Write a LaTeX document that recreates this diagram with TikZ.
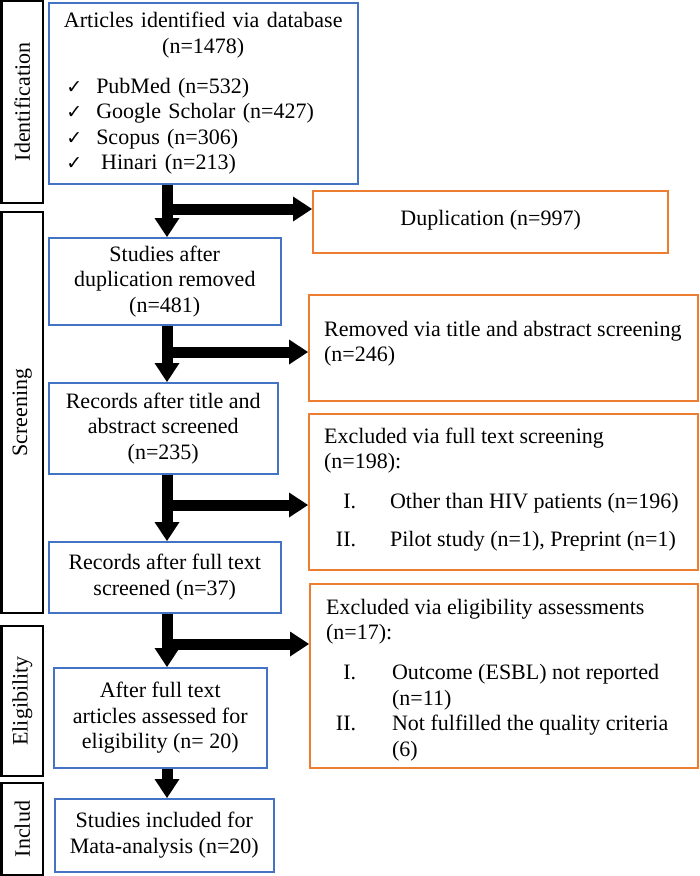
\documentclass[tikz,border=0pt]{standalone}
\usepackage{fontspec}
\setmainfont{Liberation Serif}
\newfontfamily\ckfont{DejaVu Sans}
\usetikzlibrary{arrows.meta}
\definecolor{bboxc}{HTML}{4472C4}
\definecolor{oboxc}{HTML}{ED7D31}
\newcommand{\chkmk}{\makebox[30pt][l]{{\ckfont\fontsize{19}{19}\selectfont ✓}}}
\begin{document}
\begin{tikzpicture}[x=1pt,y=-1pt,
  every node/.style={font=\fontsize{22}{25.5}\selectfont},
  bluebox/.style={draw=bboxc, line width=1.5pt, anchor=north west, inner sep=0pt, align=center},
  orangebox/.style={draw=oboxc, line width=2.2pt, anchor=north west, inner sep=0pt},
  stagebox/.style={draw=black, line width=2.5pt, rotate=90, inner sep=0pt},
  bigarrow/.style={line width=11pt, -{Triangle[length=19pt,width=25pt,line width=0pt]}},
]
\useasboundingbox (0,0) rectangle (700,876);

% stage boxes
\node[stagebox, minimum width=202pt, minimum height=41.5pt] (sid) at (22.25,102) {Identification};
\node[stagebox, minimum width=401pt, minimum height=41.5pt] (sscr) at (22.25,412.5) {Screening};
\node[stagebox, minimum width=150pt, minimum height=41.5pt] (selig) at (22.25,701) {Eligibility};
\node[stagebox, minimum width=92pt, minimum height=41.5pt] (sinc) at (22.25,829) {Includ};

% blue boxes
\node[bluebox, align=left, text width=274pt, minimum width=309pt, minimum height=181pt] (b1) at (48,2)
 {\makebox[274pt]{Articles identified via database}\\
  \makebox[274pt]{(n=1478)}\\[14.5pt]
  \chkmk PubMed (n=532)\\
  \chkmk Google Scholar (n=427)\\
  \chkmk Scopus (n=306)\\
  \chkmk\hspace{5pt}Hinari (n=213)};
\node[bluebox, minimum width=232pt, minimum height=87pt] (b2) at (48,237)
 {Studies after\\duplication removed\\(n=481)};
\node[bluebox, minimum width=229pt, minimum height=91pt] (b3) at (48,382)
 {Records after title and\\abstract screened\\(n=235)};
\node[bluebox, minimum width=232pt, minimum height=71pt] (b4) at (48,541)
 {Records after full text\\screened (n=37)};
\node[bluebox, minimum width=213pt, minimum height=100pt] (b5) at (53,667)
 {After full text\\articles assessed for\\eligibility (n= 20)};
\node[bluebox, minimum width=219pt, minimum height=73pt] (b6) at (54,798)
 {Studies included for\\Mata-analysis (n=20)};

% orange boxes
\node[orangebox] (dup) at (312,190)
 {\parbox[c][62pt][t]{355pt}{\centering\rule{0pt}{34pt}Duplication (n=997)}};
\node[orangebox] (rem) at (308,294)
 {\parbox[c][106pt][t]{389pt}{\leftskip=15pt\rule{0pt}{41pt}Removed via title and abstract screening\\(n=246)}};
\node[orangebox] (ex1) at (308,413)
 {\parbox[c][156pt][t]{389pt}{\leftskip=15pt\rule{0pt}{29pt}Excluded via full text screening\\
  (n=198):\\[14pt]
  \makebox[32pt][r]{I.}\hspace{34pt}Other than HIV patients (n=196)\\[12.5pt]
  \makebox[32pt][r]{II.}\hspace{34pt}Pilot study (n=1), Preprint (n=1)}};
\node[orangebox] (ex2) at (309,583)
 {\parbox[c][184pt][t]{388pt}{\leftskip=16pt\rule{0pt}{30pt}Excluded via eligibility assessments\\
  (n=17):\\[14.5pt]
  \makebox[30pt][r]{I.}\hspace{36pt}Outcome (ESBL) not reported\\
  \hspace*{66pt}(n=11)\\
  \makebox[30pt][r]{II.}\hspace{36pt}Not fulfilled the quality criteria\\
  \hspace*{66pt}(6)}};

% arrows
\coordinate (s) at (167,0);
\coordinate (j1) at (167,209);
\coordinate (j2) at (167,352);
\coordinate (j3) at (167,505);
\coordinate (j4) at (167,644);
\draw[bigarrow] (b1.south -| s) -- (b2.north -| s);
\draw[bigarrow] (b2.south -| s) -- (b3.north -| s);
\draw[bigarrow] (b3.south -| s) -- (b4.north -| s);
\draw[bigarrow] (b4.south -| s) -- (b5.north -| s);
\draw[bigarrow] (b5.south -| s) -- (b6.north -| s);
\draw[bigarrow] (j1) -- (j1 -| dup.west);
\draw[bigarrow] (j2) -- (j2 -| rem.west);
\draw[bigarrow] (j3) -- (j3 -| ex1.west);
\draw[bigarrow] (j4) -- (j4 -| ex2.west);
\end{tikzpicture}
\end{document}
